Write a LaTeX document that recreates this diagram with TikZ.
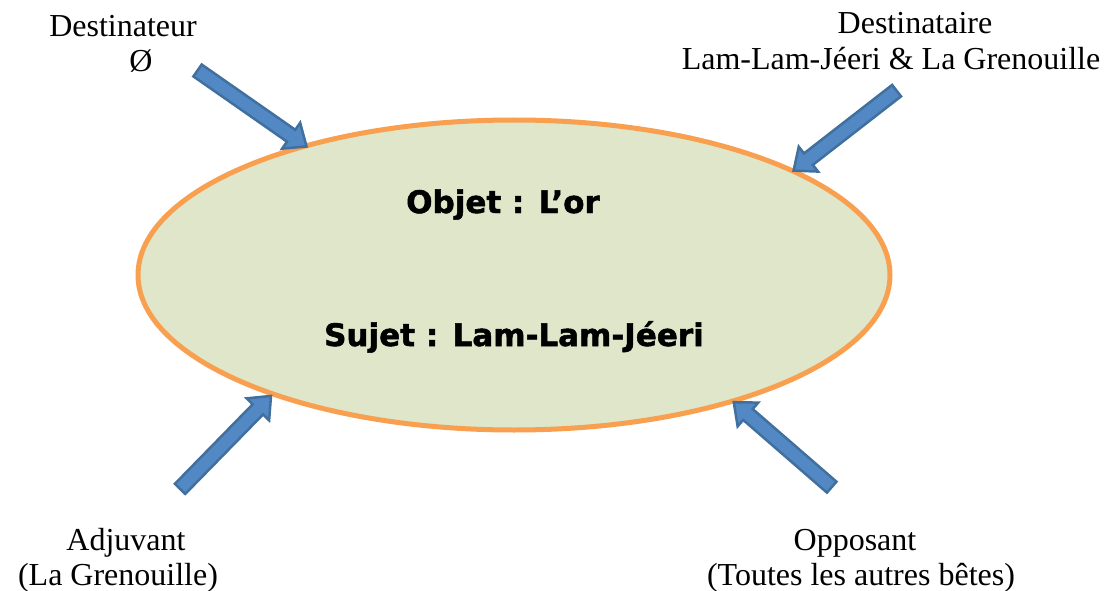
\documentclass[tikz,border=0pt]{standalone}
\usepackage{fontspec}
\setmainfont{Liberation Serif}
\newfontfamily\blackfont{DejaVu Sans}[BoldFeatures={FakeBold=1.6}]
\usetikzlibrary{shapes.arrows,shapes.geometric,calc}
\definecolor{ellline}{HTML}{F8A04F}
\definecolor{ellfill}{HTML}{DFE6C9}
\definecolor{arrfill}{HTML}{5288C4}
\definecolor{arrline}{HTML}{41709F}
\tikzset{
  lbl/.style={font=\fontsize{32}{36}\selectfont, inner sep=0pt, anchor=base},
  inlbl/.style={font=\blackfont\bfseries\fontsize{31}{36}\selectfont, inner sep=0pt, anchor=base},
  blockarrow/.style={single arrow, draw=arrline, fill=arrfill, line width=2.5pt,
    single arrow head extend=8.5pt, single arrow tip angle=80,
    inner xsep=0pt, inner ysep=6pt, outer sep=0pt}
}
\newcommand\blockarr[3]{%
  \path let \p1=(#2), \p2=(#3), \n1={atan2(\y2-\y1,\x2-\x1)}, \n2={veclen(\x2-\x1,\y2-\y1)} in
    node[blockarrow, rotate=\n1, minimum height=\n2] (#1) at ($(#2)!0.5!(#3)$) {};}
\begin{document}
\begin{tikzpicture}[x=1pt,y=-1pt]
\useasboundingbox (0,0) rectangle (1106,591);
\node[ellipse, draw=ellline, fill=ellfill, line width=5pt, minimum width=752pt, minimum height=310pt, inner sep=0pt] (ell) at (514,275) {};
\node[inlbl] (objet) at (503,213) {Objet : L’or};
\node[inlbl] (sujet) at (514,346) {Sujet : Lam-Lam-Jéeri};
\node[lbl] (dest1) at (123,37) {Destinateur};
\node[lbl] (dest2) at (141,72) {Ø};
\node[lbl] (dtr1) at (915,34) {Destinataire};
\node[lbl] (dtr2) at (891,70) {Lam-Lam-Jéeri \& La Grenouille};
\node[lbl] (adj1) at (126,550) {Adjuvant};
\node[lbl] (adj2) at (118,585) {(La Grenouille)};
\node[lbl] (opp1) at (855,550) {Opposant};
\node[lbl] (opp2) at (861,585) {(Toutes les autres bêtes)};
\coordinate (tlA) at (194,68);  \coordinate (tlB) at (303,144);
\coordinate (trA) at (900,88);  \coordinate (trB) at (797,168);
\coordinate (blA) at (177,492); \coordinate (blB) at (268,399);
\coordinate (brA) at (835,490); \coordinate (brB) at (737,405);
\blockarr{arrTL}{tlA}{tlB}
\blockarr{arrTR}{trA}{trB}
\blockarr{arrBL}{blA}{blB}
\blockarr{arrBR}{brA}{brB}
\end{tikzpicture}
\end{document}
